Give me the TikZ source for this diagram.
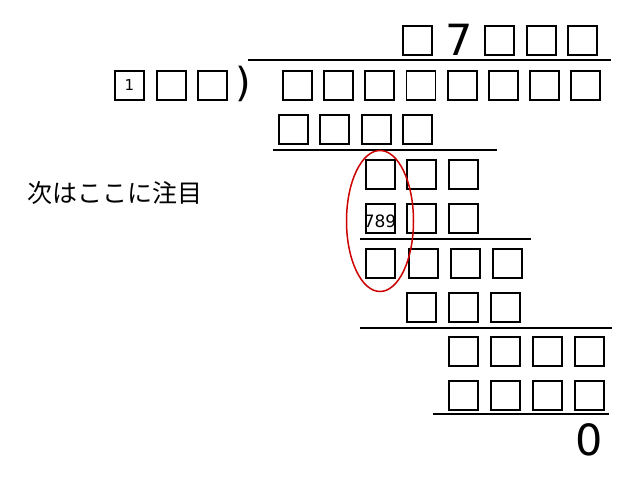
\documentclass[tikz,border=0pt]{standalone}
\usepackage{fontspec}
\setmainfont{DejaVu Sans}
\newfontfamily\cjk{Noto Sans CJK JP}
\usetikzlibrary{shapes.geometric}
\begin{document}
\begin{tikzpicture}[x=1pt,y=-1pt,
  bx/.style={draw,line width=1.7pt,minimum width=29pt,minimum height=29pt,inner sep=0pt,anchor=north west},
  rule/.style={line width=1.8pt},
  big/.style={font=\fontsize{43}{43}\selectfont,inner sep=0pt}]
\useasboundingbox (0,0) rectangle (638,479);
% quotient
\node[bx] (q0) at (402,25) {};
\node[big] (q1) at (459,40) {7};
\foreach \x [count=\i] in {484,526,567} \node[bx] (q\i b) at (\x,25) {};
\coordinate (ql) at (248,60); \coordinate (qr) at (611,60);
\draw[rule] (ql) -- (qr);
% divisor
\node[bx,font=\fontsize{15}{15}\selectfont] (d0) at (114,70) {1};
\node[bx] (d1) at (156,70) {};
\node[bx] (d2) at (197,70) {};
\node[big,font=\fontsize{40}{40}\selectfont] (par) at (243,84) {)};
% dividend
\foreach \i in {0,...,7} \node[bx] (r1\i) at ({282+41.2*\i},70) {};
% row2
\foreach \x [count=\i] in {278,319,361,402} \node[bx] (r2\i) at (\x,114) {};
\coordinate (l1a) at (273,150); \coordinate (l1b) at (497,150);
\draw[rule] (l1a) -- (l1b);
% row3,4
\foreach \x [count=\i] in {365,406,448} {\node[bx] (r3\i) at (\x,159) {}; \node[bx] (r4\i) at (\x,203) {};}
\node[inner sep=0pt,font=\fontsize{17}{17}\selectfont] (t789) at (380,221) {789};
\coordinate (l2a) at (360,239); \coordinate (l2b) at (531,239);
\draw[rule] (l2a) -- (l2b);
% row5
\foreach \x [count=\i] in {365,408,450,492} \node[bx] (r5\i) at (\x,248) {};
\foreach \x [count=\i] in {406,448,490} \node[bx] (r6\i) at (\x,292) {};
\coordinate (l3a) at (360,328); \coordinate (l3b) at (612,328);
\draw[rule] (l3a) -- (l3b);
\foreach \x [count=\i] in {448,490,532,574} {\node[bx] (r7\i) at (\x,336) {}; \node[bx] (r8\i) at (\x,380) {};}
\coordinate (l4a) at (433,414); \coordinate (l4b) at (609,414);
\draw[rule] (l4a) -- (l4b);
\node[big] (zero) at (589,440) {0};
% note
\node[draw=red!80!black,line width=1.5pt,ellipse,minimum width=67pt,minimum height=141pt,inner sep=0pt] (ell) at (380,221) {};
\node[font=\cjk\fontsize{25}{25}\selectfont,inner sep=0pt] (note) at (115,193) {次はここに注目};
\end{tikzpicture}
\end{document}
